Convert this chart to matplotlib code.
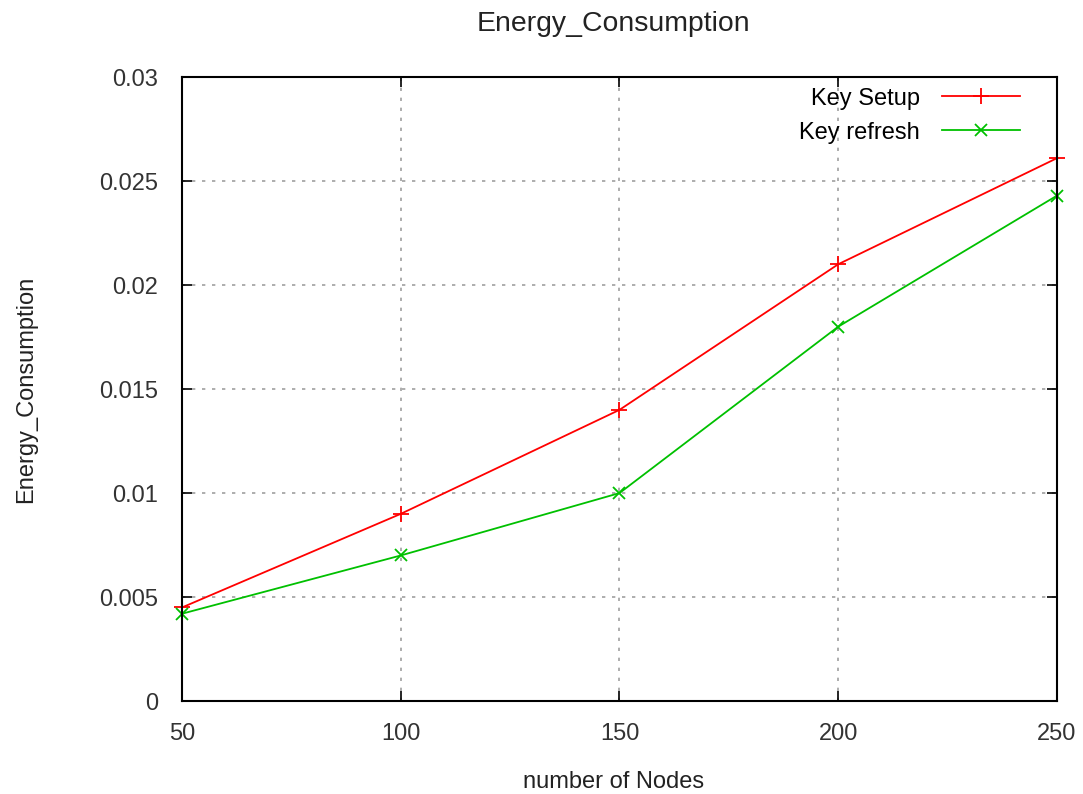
import matplotlib
matplotlib.use("Agg")
import matplotlib.pyplot as plt

nodes = [50, 100, 150, 200, 250]
key_setup = [0.0045, 0.009, 0.014, 0.021, 0.0261]
key_refresh = [0.0042, 0.007, 0.010, 0.018, 0.0243]

y_ticks = [0, 0.005, 0.01, 0.015, 0.02, 0.025, 0.03]
y_labels = ["0", "0.005", "0.01", "0.015", "0.02", "0.025", "0.03"]

plt.rcParams["font.family"] = ["Liberation Sans", "DejaVu Sans"]
plt.rcParams["font.size"] = 17

fig = plt.figure(figsize=(10.83, 7.94), dpi=100)
ax = fig.add_axes([0.168, 0.117, 0.808, 0.786])

ax.plot(nodes, key_setup, color="#ff0000", lw=1.3, marker="+", ms=12, mew=1.3,
        label="Key Setup", clip_on=False)
ax.plot(nodes, key_refresh, color="#00c000", lw=1.3, marker="x", ms=9, mew=1.3,
        label="Key refresh", clip_on=False)

ax.set_xlim(50, 250)
ax.set_ylim(0, 0.03)
ax.set_xticks(nodes)
ax.set_yticks(y_ticks)
ax.set_yticklabels(y_labels)
ax.tick_params(direction="in", top=True, right=True, length=7, width=1.2,
               colors="black", labelcolor="#333333")
ax.tick_params(axis="x", pad=16)
ax.tick_params(axis="y", pad=17)
ax.grid(True, color="#a0a0a0", linestyle=(0, (2, 4)), lw=1.2)
for s in ax.spines.values():
    s.set_linewidth(1.5)

ax.set_title("Energy_Consumption", pad=33, color="#222222", x=0.493)
ax.set_xlabel("number of Nodes", color="#222222")
ax.set_ylabel("Energy_Consumption", color="#222222")
ax.xaxis.set_label_coords(0.493, -0.112)
ax.yaxis.set_label_coords(-0.166, 0.5)

leg = ax.legend(loc="upper right", bbox_to_anchor=(0.9685, 0.998), frameon=False,
                markerfirst=False, handlelength=3.3, borderaxespad=0,
                labelspacing=0.5, handletextpad=0.93)

fig.savefig("out.png", dpi=100)
